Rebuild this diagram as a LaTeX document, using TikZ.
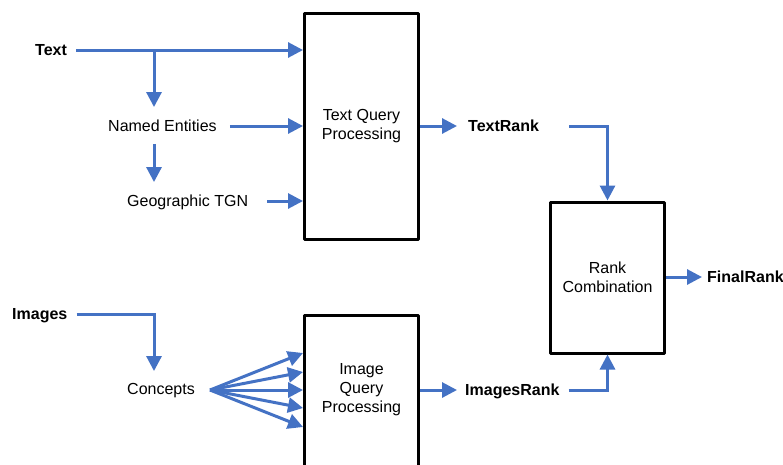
\documentclass[tikz,border=0pt]{standalone}
\usepackage{fontspec}
\setmainfont{Liberation Sans}
\usetikzlibrary{arrows.meta}
\definecolor{flowblue}{RGB}{68,114,196}

\begin{document}
\begin{tikzpicture}[x=1pt,y=-1pt]

\tikzset{word/.style = {inner sep=0pt, text height=11.5pt, text depth=0pt, font=\fontsize{16}{19}\selectfont}}
\tikzset{bword/.style = {word, font=\fontsize{16}{19}\selectfont\bfseries}}
\tikzset{procbox/.style = {draw, line width=3pt, line join=round, minimum width=114pt, align=center, font=\fontsize{16}{19}\selectfont}}
\tikzset{flow/.style = {draw=flowblue, line width=3pt, -{Triangle[length=15pt,width=15pt]}}}
\clip (0,0) rectangle (783,464);
%inputs
\node[bword, anchor=west] (text) at (35,50) {Text};
\node[word, anchor=west] (ne) at (108,126) {Named Entities};
\node[word, anchor=west] (tgn) at (127,201) {Geographic TGN};
\node[bword, anchor=west] (images) at (12,314) {Images};
\node[word, anchor=west] (concepts) at (127,389) {Concepts};
\coordinate (split) at (154,50);
\coordinate (fan) at (210,390);
%processing
\node[procbox, minimum height=226pt] (tqp) at (361.5,126) {Text Query\\Processing};
\node[procbox, minimum height=170pt, anchor=north] (iqbox) at (361.5,313.5) {};
\node[align=center, font=\fontsize{16}{19}\selectfont] (iqp) at (361.5,390) {Image\\Query\\Processing};
\node[procbox, minimum height=151pt] (rc) at (607.5,277.5) {Rank\\Combination};
%outputs
\node[bword, anchor=west] (textrank) at (468,126) {TextRank};
\node[bword, anchor=west] (imagesrank) at (465,390) {ImagesRank};
\node[bword, anchor=west] (finalrank) at (707,277) {FinalRank};
%edges
\draw[flow, shorten <=9pt] (text) -- (tqp.west |- text);
\draw[flow, shorten >=13pt] (split) -- (split |- ne.north);
\draw[flow, shorten <=13pt] (ne) -- (tqp.west |- ne);
\draw[flow, shorten <=12pt, shorten >=13pt] (ne.south -| split) -- (tgn.north -| split);
\draw[flow, shorten <=19pt] (tgn) -- (tqp.west |- tgn);
\draw[flow, shorten <=9pt, shorten >=12pt] (images) -- (images -| split) -- (concepts.north -| split);
\foreach \y in {353,372,390,408,427}
  \draw[flow] (fan) -- (iqbox.west |- 0,\y);
\draw[flow, shorten >=11pt] (tqp.east |- textrank) -- (textrank);
\draw[flow, shorten >=8pt] (iqbox.east |- imagesrank) -- (imagesrank);
\draw[flow, shorten <=30pt] (textrank) -- (textrank -| rc.north) -- (rc.north);
\draw[flow, shorten <=9pt] (imagesrank) -- (imagesrank -| rc.south) -- (rc.south);
\draw[flow, shorten >=5pt] (rc.east |- finalrank) -- (finalrank);

\end{tikzpicture}
\end{document}
